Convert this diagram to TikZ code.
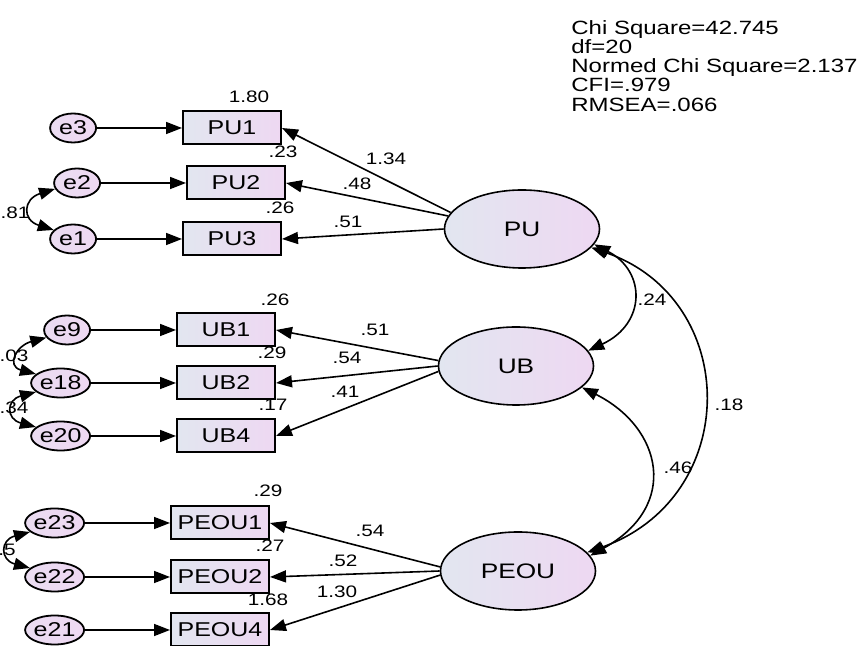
\documentclass[tikz,border=0pt]{standalone}
\usepackage{fontspec}
\setmainfont{Liberation Sans}[FakeStretch=1.25]
\usetikzlibrary{positioning,shapes.geometric,arrows.meta}

\definecolor{fillL}{RGB}{226,230,240}
\definecolor{fillR}{RGB}{238,216,242}

\begin{document}
\begin{tikzpicture}[
			x=0.5pt, y=-0.5pt,
			node distance=42.5pt,
			obs/.style={draw, line width=1pt, rectangle, minimum width=49pt, minimum height=16.5pt, inner sep=0pt, left color=fillL, right color=fillR, font=\fontsize{10}{11}\selectfont},
			err/.style={draw, line width=0.9pt, ellipse, minimum width=23pt, minimum height=14.5pt, inner sep=0pt, left color=fillR!70!fillL, right color=fillR, font=\fontsize{10}{11}\selectfont},
			lat/.style={draw, line width=0.8pt, ellipse, minimum width=77.5pt, minimum height=39pt, left color=fillL, right color=fillR, font=\fontsize{10.5}{11}\selectfont},
			lbl/.style={font=\fontsize{8.3}{9}\selectfont, inner sep=1pt},
			reg/.style={-{Triangle[length=8pt,width=6pt]}, line width=0.8pt},
			cov/.style={{Triangle[length=8pt,width=6pt]}-{Triangle[length=8pt,width=6pt]}, line width=0.8pt}
			]
			\useasboundingbox (0,0) rectangle (864,646);
			
			% Fit indices
			\node[anchor=north west, align=left, inner sep=0pt, font=\fontsize{9.6}{9.6}\selectfont] (stats) at (571,20) {Chi Square=42.745\\df=20\\Normed Chi Square=2.137\\CFI=.979\\RMSEA=.066};
			
			% Latent factors
			\node[lat] (PU) at (522,229) {PU};
			\node[lat] (UB) at (516,366) {UB};
			\node[lat] (PEOU) at (518,571) {PEOU};
			
			% Indicators
			\node[obs] (PU1) at (232,128) {PU1};
			\node[obs] (PU2) at (236,183) {PU2};
			\node[obs] (PU3) at (232,239) {PU3};
			\node[obs] (UB1) at (226,330) {UB1};
			\node[obs] (UB2) at (226,383) {UB2};
			\node[obs] (UB4) at (226,436) {UB4};
			\node[obs] (PEOU1) at (220,523) {PEOU1};
			\node[obs] (PEOU2) at (220,577) {PEOU2};
			\node[obs] (PEOU4) at (220,630) {PEOU4};
			
			% Error terms
			\node[err, left=of PU1] (e3) {e3};
			\node[err, left=of PU2] (e2) {e2};
			\node[err, left=of PU3] (e1) {e1};
			\node[err, left=of UB1] (e9) {e9};
			\node[err, left=of UB2] (e18) {e18};
			\node[err, left=of UB4] (e20) {e20};
			\node[err, left=of PEOU1] (e23) {e23};
			\node[err, left=of PEOU2] (e22) {e22};
			\node[err, left=of PEOU4] (e21) {e21};
			
			% Estimates
			\node[lbl] (rPU1) at (249,97) {1.80};
			\node[lbl] (rPU2) at (283,152) {.23};
			\node[lbl] (rPU3) at (280,208) {.26};
			\node[lbl] (rUB1) at (275,300) {.26};
			\node[lbl] (rUB2) at (272,353) {.29};
			\node[lbl] (rUB4) at (273,405) {.17};
			\node[lbl] (rPEOU1) at (268,491) {.29};
			\node[lbl] (rPEOU2) at (270,546) {.27};
			\node[lbl] (rPEOU4) at (268,600) {1.68};
			\node[lbl] (wPU1) at (386,159) {1.34};
			\node[lbl] (wPU2) at (357,184) {.48};
			\node[lbl] (wPU3) at (348,222) {.51};
			\node[lbl] (wUB1) at (375,330) {.51};
			\node[lbl] (wUB2) at (347,358) {.54};
			\node[lbl] (wUB4) at (345,392) {.41};
			\node[lbl] (wPEOU1) at (370,531) {.54};
			\node[lbl] (wPEOU2) at (343,561) {.52};
			\node[lbl] (wPEOU4) at (337,592) {1.30};
			\node[lbl] (c21) at (15,213) {.81};
			\node[lbl] (c918) at (14,356) {.03};
			\node[lbl] (c1820) at (14,408) {.34};
			\node[lbl] (c2322) at (7,550) {.5};
			\node[lbl] (cPUUB) at (652,300) {.24};
			\node[lbl] (cUBPEOU) at (678,468) {.46};
			\node[lbl] (cPUPEOU) at (729,405) {.18};
			
			% Error paths
			\foreach \e/\v in {e3/PU1, e2/PU2, e1/PU3, e9/UB1, e18/UB2, e20/UB4, e23/PEOU1, e22/PEOU2, e21/PEOU4}
				\draw[reg] (\e) -- (\v);
			
			% Loadings
			\draw[reg] (PU.167) -- (PU1.east);
			\draw[reg] (PU.170) -- (PU2.east);
			\draw[reg] (PU.180) -- (PU3.east);
			\draw[reg] (UB.176) -- (UB1.east);
			\draw[reg] (UB.180) -- (UB2.east);
			\draw[reg] (UB.184) -- (UB4.east);
			\draw[reg] (PEOU.177) -- (PEOU1.east);
			\draw[reg] (PEOU.180) -- (PEOU2.east);
			\draw[reg] (PEOU.183) -- (PEOU4.east);
			
			% Covariances
			\draw[cov] (e2.195) .. controls +(-32,10) and +(-32,-10) .. (e1.155);
			\draw[cov] (e9.200) .. controls +(-30,8) and +(-30,-8) .. (e18.160);
			\draw[cov] (e18.200) .. controls +(-30,8) and +(-30,-8) .. (e20.160);
			\draw[cov] (e23.200) .. controls +(-30,8) and +(-30,-8) .. (e22.160);
			\draw[cov] (PU.-12) .. controls +(52,27) and +(58,-27) .. (UB.12);
			\draw[cov] (UB.-18) .. controls +(80,40) and +(90,-50) .. (PEOU.12);
			\draw[cov] (PU.-15) .. controls +(150,52) and +(155,-55) .. (PEOU.15);
			
		\end{tikzpicture}
\end{document}
